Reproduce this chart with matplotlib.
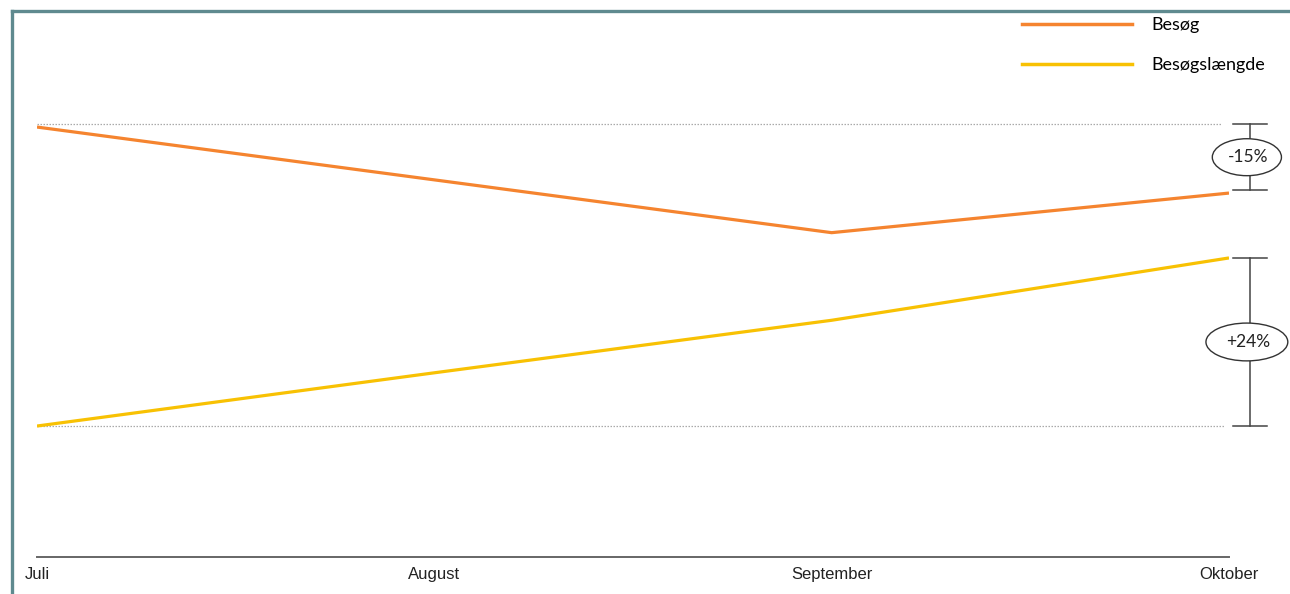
import matplotlib.pyplot as plt
from matplotlib.lines import Line2D
from matplotlib.patches import Ellipse

# data (index values)
months = ['Juli', 'August', 'September', 'Oktober']
besog = [100, 88, 76, 85]
besogslaengde = [100, 107.6, 115.1, 124]
besog_change = '-15%'
laengde_change = '+24%'

orange = '#F5842F'
yellow = '#F8C103'
border = '#5F8A8F'

fig = plt.figure(figsize=(12.9, 5.94), dpi=100)
W, H = 1290, 594
ax = fig.add_axes([37 / W, (H - 557) / H, (1229 - 37) / W, (557 - 10) / H])
ax2 = ax.twinx()

x = list(range(len(months)))
ax.plot(x, besog, color=orange, lw=2.3, solid_capstyle='butt', zorder=3)
ax2.plot(x, besogslaengde, color=yellow, lw=2.3, solid_capstyle='butt', zorder=3)

ax.set_xlim(0, 3)
ax.set_ylim(2.3, 126.6)
ax2.set_ylim(81.3, 159.4)

# dotted reference lines at start values
ax.plot([0, 2.98], [besog[0] + 0.7, besog[0] + 0.7], color='#aaaaaa', lw=0.9, ls=(0, (1.2, 1.2)), zorder=2)
ax2.plot([0, 2.99], [besogslaengde[0], besogslaengde[0]], color='#aaaaaa', lw=0.9, ls=(0, (1.2, 1.2)), zorder=2)

# brackets with change labels
bx = 3.053
cap = 0.042
for a, y0, y1, label, ew, eh in [(ax, besog[0] + 0.7, besog[-1] + 0.6, besog_change, 0.174, 8.4),
                                 (ax2, besogslaengde[0], besogslaengde[-1], laengde_change, 0.206, 5.4)]:
    a.plot([bx, bx], [y0, y1], color='#444444', lw=1.1, clip_on=False, zorder=4)
    for yy in (y0, y1):
        a.plot([bx - cap, bx + cap], [yy, yy], color='#444444', lw=1.1, clip_on=False, zorder=4)
    ym = (y0 + y1) / 2
    a.add_patch(Ellipse((bx - 0.008, ym), ew, eh, facecolor='white', edgecolor='#333333',
                        lw=1.0, clip_on=False, zorder=5))
    a.text(bx - 0.005, ym, label, ha='center', va='center', fontsize=12.5, family='Lato',
           color='#222222', zorder=6, clip_on=False)

# axes styling
for a in (ax, ax2):
    for s in ('top', 'right', 'left'):
        a.spines[s].set_visible(False)
    a.set_yticks([])
ax2.spines['bottom'].set_visible(False)
ax.spines['bottom'].set_color('#666666')
ax.spines['bottom'].set_linewidth(1.4)
ax.set_xticks(x)
ax.set_xticklabels(months, fontsize=12, family='Liberation Sans', color='#222222')
ax.tick_params(axis='x', length=0, pad=7)

# legend
handles = [Line2D([], [], color=orange, lw=2.5), Line2D([], [], color=yellow, lw=2.5)]
fig.legend(handles, ['Besøg', 'Besøgslængde'], loc='upper left',
           bbox_to_anchor=(1013 / W, 1 - 8 / H), frameon=False, borderpad=0,
           handlelength=6.1, handletextpad=1.05, labelspacing=1.35,
           prop={'family': 'Lato', 'size': 13})

# frame border (left and top)
fig.add_artist(Line2D([11.5 / W, 11.5 / W], [0, 1 - 10.5 / H], color=border, lw=2.4,
                      transform=fig.transFigure, solid_capstyle='projecting'))
fig.add_artist(Line2D([11.5 / W, 1.0], [1 - 10.5 / H, 1 - 10.5 / H], color=border, lw=2.4,
                      transform=fig.transFigure, solid_capstyle='projecting'))

fig.savefig('out.png', dpi=100)
